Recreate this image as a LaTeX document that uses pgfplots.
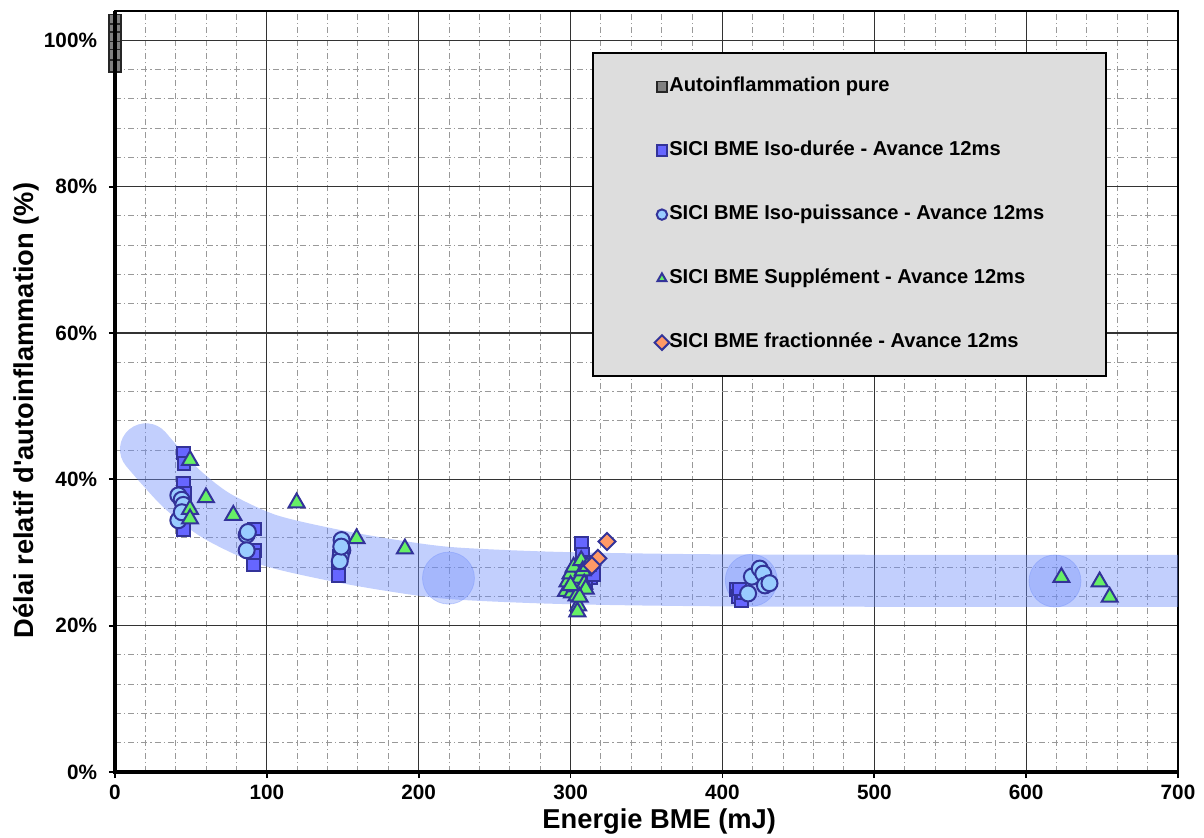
\documentclass[border=0pt]{standalone}
\usepackage{pgfplots}
\pgfplotsset{compat=1.18}
\usepackage{fontspec}
\setmainfont{Liberation Sans}
\newfontfamily\plainfont{Liberation Sans}
\definecolor{bandcol}{RGB}{110,140,250}
\definecolor{edgeblue}{RGB}{51,51,153}
\definecolor{sqblue}{RGB}{102,102,255}
\definecolor{circblue}{RGB}{153,204,255}
\definecolor{trigreen}{RGB}{102,240,102}
\definecolor{diaorange}{RGB}{255,153,102}
\definecolor{graysq}{RGB}{128,128,128}
\definecolor{legfill}{RGB}{221,221,221}
\pgfplotsset{marklegend/.style={legend image code/.code={\draw[##1,mark size=2.6bp] plot coordinates {(3bp,0bp)};}}}
\begin{document}
\begin{tikzpicture}
\useasboundingbox (-57.5bp,-33bp) rectangle (544.5bp,386bp);
\begin{axis}[name=ax, at={(0,0)}, anchor=south west,
  scale only axis, width=531.5bp, height=380.5bp,
  xmin=0, xmax=700, ymin=0, ymax=104,
  xtick={0,100,...,700}, ytick={0,20,...,100},
  minor x tick num=4, minor y tick num=4,
  grid=both,
  major grid style={black!80, line width=0.6bp},
  minor grid style={black!40, line width=0.5bp, dash pattern=on 3bp off 1.5bp on 0.6bp off 1.5bp},
  axis line style={black, line width=0.6bp},
  tick align=outside, major tick length=3bp, minor tick length=0pt,
  xtick pos=bottom, ytick pos=left,
  tick style={black, line width=0.9bp},
  /pgf/number format/assume math mode=true,
  tick label style={font=\bfseries\fontsize{10.4}{12}\selectfont},
  yticklabel style={xshift=-2.5bp},
  yticklabel={\pgfmathprintnumber{\tick}\%},
  xlabel={Energie BME (mJ)}, ylabel={Délai relatif d{\plainfont'}autoinflammation (\%)},
  label style={font=\bfseries\fontsize{13.7}{16}\selectfont},
  xlabel style={at={(axis description cs:0.512,-0.0736)}, anchor=base},
  ylabel style={at={(axis description cs:-0.0771,0.475)}, anchor=base},
  clip mode=individual,
  legend style={at={(axis description cs:0.4487,0.946)}, anchor=north west,
    fill=legfill, draw=black, line width=1bp,
    minimum width=256.5bp, minimum height=161.5bp,
    font=\bfseries\fontsize{10.1}{12}\selectfont,
    row sep=22.3bp, inner sep=0pt,
    nodes={inner sep=0pt, minimum width=0pt, minimum height=0pt, text height=7.5bp, text depth=2.2bp}},
  legend cell align=left,
]
% band
\addplot[forget plot, smooth, no markers, line width=26bp, line cap=round, color=bandcol, opacity=0.42]
 coordinates {(20.4,44.1) (30,41.8) (45,38.5) (67,35) (100,31.8) (140,29.8) (180,28.3) (220,27.2) (280,26.6) (350,26.3) (450,26.15) (760,26.1)};
\addplot[forget plot, only marks, mark=*, mark size=13bp, color=bandcol, opacity=0.35]
 coordinates {(219.6,26.5) (419,26.2) (619,26.1)};
% Autoinflammation pure
\addplot[only marks, mark=square*, mark size=3bp, mark options={fill=graysq, draw=black!85, line width=0.8bp}, marklegend]
 coordinates {(0,102.7) (0,101.4) (0,100.3) (0,99.0) (0,97.9) (0,96.5)};
\addlegendentry{Autoinflammation pure}
% Iso-duree
\addplot[only marks, mark=square*, mark size=3.2bp, mark options={fill=sqblue, draw=edgeblue, line width=1bp}, marklegend]
 coordinates {(45,43.6) (45.5,42.2) (45,39.4) (46,38.1) (45,33.1)
 (92,33.2) (92,30.3) (91,29.6) (91,28.3)
 (147,28.0) (147,26.9) (148,29.5)
 (307,31.2) (308,29.8) (310,28.6) (312,27.4) (313,26.5) (310,25.4) (305,26) (315,27)
 (409,24.9) (410.5,24.0) (412.5,23.4) (414,24.5) (411,25)};
\addlegendentry{SICI BME Iso-durée - Avance 12ms}
% Iso-puissance
\addplot[only marks, mark=*, mark size=4bp, mark options={fill=circblue, draw=edgeblue, line width=1bp}, marklegend]
 coordinates {(41.7,37.8) (43.9,37.2) (45,36.5) (41.7,34.4) (44,35.5)
 (86.7,32.4) (87.5,32.8) (86.7,30.3)
 (149.2,31.7) (149.7,30.3) (148.6,29.5) (148,28.8) (149,30.8)
 (419.4,26.7) (424.6,27.8) (426.9,27.1) (428,25.5) (416.9,24.4) (431,25.8)};
\addlegendentry{SICI BME Iso-puissance - Avance 12ms}
% Supplement
\addplot[only marks, mark=triangle*, mark size=4.6bp, mark options={fill=trigreen, draw=edgeblue, line width=1bp}, marklegend]
 coordinates {(49.4,42.6) (49.4,35.9) (49.4,34.6) (59.9,37.5) (77.9,35.1) (119.6,36.8) (159.1,31.9) (190.9,30.5)
 (297,24.7) (298,26.0) (300,27.1) (301,24.5) (302,28.0) (303,25.3) (304,24.1) (305,22.7) (304.5,21.9) (306,26.5) (307,28.9) (308,27.5) (309,25.7) (310,25.0) (311,28.1) (306,23.9) (300,25.5)
 (623.2,26.6) (648.4,26.0) (655,23.9)};
\addlegendentry{SICI BME Supplément - Avance 12ms}
% fractionnee
\addplot[only marks, mark=square*, mark size=3bp, mark options={rotate=45, fill=diaorange, draw=edgeblue, line width=1bp}, marklegend]
 coordinates {(324,31.5) (318,29.2) (314,28.2)};
\addlegendentry{SICI BME fractionnée - Avance 12ms}
\end{axis}
\draw[line width=2bp, black] (ax.north west) -- (ax.south west) -- (ax.south east);
\end{tikzpicture}
\end{document}
